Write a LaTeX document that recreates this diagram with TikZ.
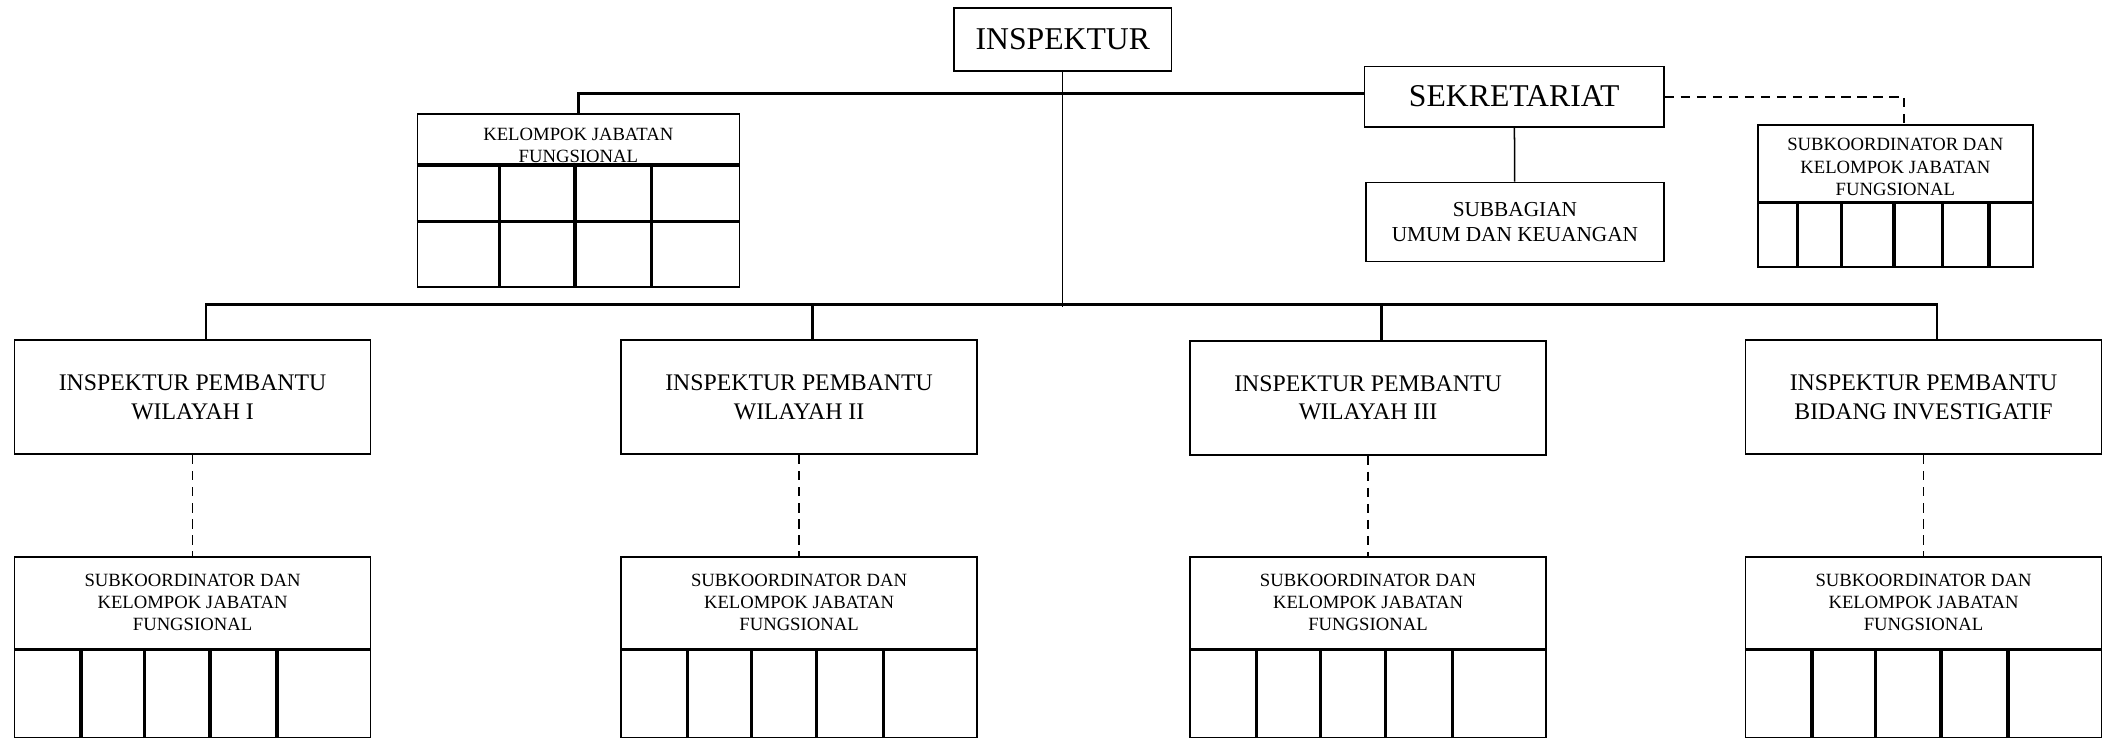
\documentclass[tikz,border=0pt]{standalone}
\usepackage{fontspec}
\setmainfont{Liberation Serif}
\usetikzlibrary{calc}

\tikzset{
  kotak/.style={draw, line width=0.8pt, inner sep=0pt, align=center},
  besar/.style={font=\fontsize{16.8pt}{19pt}\selectfont},
  sedang/.style={font=\fontsize{12.6pt}{15pt}\selectfont},
  kecil/.style={font=\fontsize{9.9pt}{11.8pt}\selectfont, align=center, inner sep=0pt},
  pembantu/.style={kotak, sedang, minimum width=6.625cm, minimum height=2.125cm},
  subkoor/.style={kotak, minimum width=6.625cm, minimum height=3.3625cm},
  sekat/.style={line width=1.8pt},
  garis/.style={line width=1.3pt},
  tipis/.style={line width=0.8pt},
  putus/.style={line width=1pt, dash pattern=on 5pt off 3.5pt},
}

\begin{document}
\begin{tikzpicture}[x=0.025cm, y=-0.025cm]
\useasboundingbox (0,0) rectangle (1568,550);

% atas
\node[kotak, besar, minimum width=4.05cm, minimum height=1.175cm] (inspektur) at (792,29.5) {INSPEKTUR};
\node[kotak, besar, minimum width=5.575cm, minimum height=1.125cm] (sekretariat) at (1128.5,72) {SEKRETARIAT};
\node[kotak, font=\fontsize{11.3pt}{12.8pt}\selectfont, minimum width=5.55cm, minimum height=1.475cm] (subbagian) at (1129,165.5) {SUBBAGIAN\\UMUM DAN KEUANGAN};

\node[kotak, minimum width=6cm, minimum height=3.225cm] (jabfung) at (431,149.5) {};
\node[kecil] (jabfungteks) at (431,108.5) {KELOMPOK JABATAN\\FUNGSIONAL};
\draw[sekat] (jabfung.west |- 0,123) -- (jabfung.east |- 0,123);
\draw[sekat] (jabfung.west |- 0,165) -- (jabfung.east |- 0,165);
\foreach \d in {62,118,175}
  \draw[sekat] ($(jabfung.south west)+(\d,0)$) -- ($(jabfung.north west)+(\d,38)$);

\node[kotak, minimum width=5.125cm, minimum height=2.65cm] (subkoorsek) at (1412.5,146) {};
\node[kecil] (subkoorsekteks) at (1412.5,124.5) {SUBKOORDINATOR DAN\\KELOMPOK JABATAN\\FUNGSIONAL};
\draw[sekat] (subkoorsek.west |- 0,151) -- (subkoorsek.east |- 0,151);
\foreach \d in {30,63,102,138,173}
  \draw[sekat] ($(subkoorsek.south west)+(\d,0)$) -- ++(0,-48);

% inspektur pembantu
\node[pembantu] (ip1) at (143.5,296) {INSPEKTUR PEMBANTU\\WILAYAH I};
\node[pembantu] (ip2) at (595.5,296) {INSPEKTUR PEMBANTU\\WILAYAH II};
\node[pembantu] (ip3) at (1019.5,296.5) {INSPEKTUR PEMBANTU\\WILAYAH III};
\node[pembantu] (ip4) at (1433.5,296) {INSPEKTUR PEMBANTU\\BIDANG INVESTIGATIF};

% subkoordinator
\node[subkoor] (sk1) at (143.5,482.25) {};
\node[subkoor] (sk2) at (595.5,482.25) {};
\node[subkoor] (sk3) at (1019.5,482.25) {};
\node[subkoor] (sk4) at (1433.5,482.25) {};
\foreach \n in {1,2,3,4} {
  \node[kecil] (sk\n teks) at ($(sk\n.north)+(0,34.5)$) {SUBKOORDINATOR DAN\\KELOMPOK JABATAN\\FUNGSIONAL};
  \draw[sekat] (sk\n.west |- 0,484) -- (sk\n.east |- 0,484);
  \foreach \d in {50,97.5,146,196}
    \draw[sekat] ($(sk\n.south west)+(\d,0)$) -- ++(0,-65.5);
}

% garis
\coordinate (simpul) at (792,228.5);
\draw[tipis] (inspektur) -- (simpul);
\draw[line width=1.6pt] (jabfung.north) |- ([yshift=0.06cm]sekretariat.west);
\draw[tipis] (sekretariat) -- (subbagian);
\draw[putus] (sekretariat.east) -| ([xshift=0.16cm]subkoorsek.north);
\draw[garis] ([xshift=0.25cm]ip1.north) -- ++(0,-26) -| ([xshift=0.25cm]ip4.north);
\draw[garis] ([xshift=0.25cm]ip2.north) -- ++(0,-26);
\draw[garis] ([xshift=0.25cm]ip3.north) -- ++(0,-26);
\draw[putus] (ip1) -- (sk1);
\draw[putus] (ip2) -- (sk2);
\draw[putus] (ip3) -- (sk3);
\draw[putus] (ip4) -- (sk4);
\end{tikzpicture}
\end{document}
